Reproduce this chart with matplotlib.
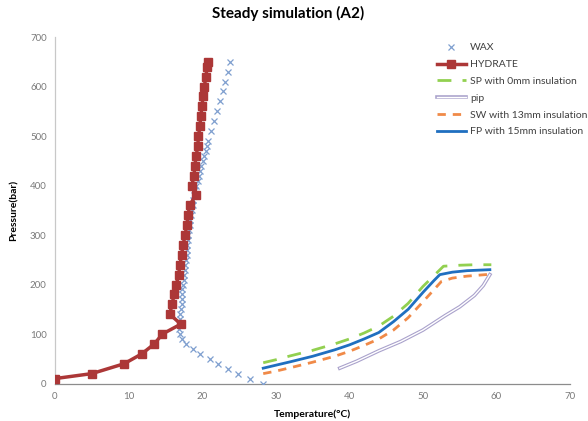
import matplotlib
matplotlib.use("Agg")
import matplotlib.pyplot as plt
from matplotlib.lines import Line2D

plt.rcParams['font.family'] = ['Lato', 'DejaVu Sans']

# Wax appearance envelope
wax_T = [28.3, 26.5, 24.9, 23.5, 22.2, 21.0, 19.7, 18.7, 17.8, 17.2,
         17.0, 16.9, 17.0, 17.0, 17.0, 17.1, 17.2, 17.2, 17.3, 17.3,
         17.4, 17.5, 17.6, 17.7, 17.7, 17.8, 17.9, 17.9, 18.0, 18.1,
         18.1, 18.2, 18.3, 18.4, 18.5, 18.6, 18.7, 18.8, 18.9, 19.0,
         19.2, 19.4, 19.6, 19.7, 19.9, 20.1, 20.3, 20.5, 20.6, 20.8,
         21.2, 21.6, 22.0, 22.4, 22.8, 23.1, 23.5, 23.8]
wax_P = [0, 10, 20, 30, 40, 50, 60, 70, 80, 90,
         100, 110, 120, 130, 140, 150, 160, 170, 180, 190,
         200, 210, 220, 230, 240, 250, 260, 270, 280, 290,
         300, 310, 320, 330, 340, 350, 360, 370, 380, 390,
         400, 410, 420, 430, 440, 450, 460, 470, 480, 490,
         510, 530, 550, 570, 590, 610, 630, 650]

# Hydrate formation curve
hyd_T = [0, 5, 9.4, 11.8, 13.5, 14.6, 17.1, 15.6, 15.9, 16.2, 16.5, 16.8,
         17.0, 17.2, 17.4, 17.7, 17.9, 18.1, 18.3, 19.1, 18.6, 18.9, 19.0,
         19.2, 19.4, 19.5, 19.7, 19.8, 20.0, 20.1, 20.3, 20.5, 20.7, 20.8]
hyd_P = [10, 20, 40, 60, 80, 100, 120, 140, 160, 180, 200, 220,
         240, 260, 280, 300, 320, 340, 360, 380, 400, 420, 440,
         460, 480, 500, 520, 540, 560, 580, 600, 620, 640, 650]

# Steady-state pipeline profiles
sp_T = [28.3, 30, 32, 35, 38, 40, 42, 44, 46, 48, 50, 52.8, 55, 57, 59.3]
sp_P = [42, 48, 56, 67, 80, 90, 102, 116, 136, 162, 196, 237, 239, 240, 240]

pip_T = [38.7, 41, 44, 47, 50, 53, 55, 57, 58.2, 59.1]
pip_P = [31, 45, 66, 85, 108, 137, 155, 178, 198, 220]

sw_T = [28.3, 30, 32, 35, 38, 40, 42, 44, 46, 48, 50, 52.5, 54, 56, 59.3]
sw_P = [20, 25, 32, 43, 55, 65, 77, 90, 108, 133, 165, 206, 213, 217, 221]

fp_T = [28.3, 30, 32, 35, 38, 40, 42, 44, 46, 48, 50, 51.5, 52.3, 54, 56, 59.1]
fp_P = [31, 37, 44, 55, 68, 78, 90, 103, 125, 150, 184, 208, 220, 225, 228, 230]

x_ticks = [0, 10, 20, 30, 40, 50, 60, 70]
y_ticks = [0, 100, 200, 300, 400, 500, 600, 700]

c_wax = '#7f9fcf'
c_hyd = '#ac3737'
c_sp = '#92d050'
c_pip = '#aaa2cc'
c_sw = '#f08a48'
c_fp = '#1f6fc0'

fig = plt.figure(figsize=(5.88, 4.21), dpi=100)
ax = fig.add_axes([0.0935, 0.089, 0.876, 0.823])

ax.plot(wax_T, wax_P, linestyle='none', marker='x', markersize=5,
        markeredgewidth=0.9, color=c_wax, zorder=3)
ax.plot(hyd_T, hyd_P, color=c_hyd, linewidth=2.5, marker='s',
        markersize=5.5, zorder=4, solid_joinstyle='round')
ax.plot(sp_T, sp_P, color=c_sp, linewidth=2, dashes=(5, 4), zorder=3)
ax.plot(pip_T, pip_P, color=c_pip, linewidth=2.6, zorder=3,
        solid_joinstyle='round')
ax.plot(pip_T, pip_P, color='white', linewidth=1.0, zorder=3,
        solid_joinstyle='round')
ax.plot(sw_T, sw_P, color=c_sw, linewidth=2, dashes=(3, 2.5), zorder=3)
ax.plot(fp_T, fp_P, color=c_fp, linewidth=2, zorder=3,
        solid_joinstyle='round')

ax.set_xlim(0, 70)
ax.set_ylim(0, 700)
ax.set_xticks(x_ticks)
ax.set_yticks(y_ticks)
ax.tick_params(length=0, labelsize=7, colors='#7a7a7a', pad=6)
for s in ['top', 'right']:
    ax.spines[s].set_visible(False)
ax.spines['left'].set_color('#c8c8c8')
ax.spines['bottom'].set_color('#8c8c8c')
ax.spines['left'].set_linewidth(0.9)
ax.spines['bottom'].set_linewidth(0.9)

ax.set_xlabel('Temperature(°C)', fontsize=7.5, fontweight='bold', labelpad=6)
ax.set_ylabel('Pressure(bar)', fontsize=7.5, fontweight='bold', labelpad=8)
fig.suptitle('Steady simulation (A2)', x=0.49, y=0.985, fontsize=11,
             fontweight='bold')

handles = [
    Line2D([], [], linestyle='none', marker='x', markersize=5,
           markeredgewidth=0.9, color=c_wax),
    Line2D([], [], color=c_hyd, linewidth=2.5, marker='s', markersize=5.5),
    Line2D([], [], color=c_sp, linewidth=2, dashes=(5, 4)),
    (Line2D([], [], color=c_pip, linewidth=2.6),
     Line2D([], [], color='white', linewidth=1.0)),
    Line2D([], [], color=c_sw, linewidth=2, dashes=(3, 2.5)),
    Line2D([], [], color=c_fp, linewidth=2),
]
labels = ['WAX', 'HYDRATE', 'SP with 0mm insulation', 'pip',
          'SW with 13mm insulation', 'FP with 15mm insulation']
leg = fig.legend(handles, labels, loc='upper left',
                 bbox_to_anchor=(0.73, 0.915), frameon=False,
                 fontsize=7.5, handlelength=2.8, handletextpad=0.4,
                 labelspacing=0.72, borderpad=0.2)
for t in leg.get_texts():
    t.set_color('#404040')

fig.savefig('out.png', dpi=100)
